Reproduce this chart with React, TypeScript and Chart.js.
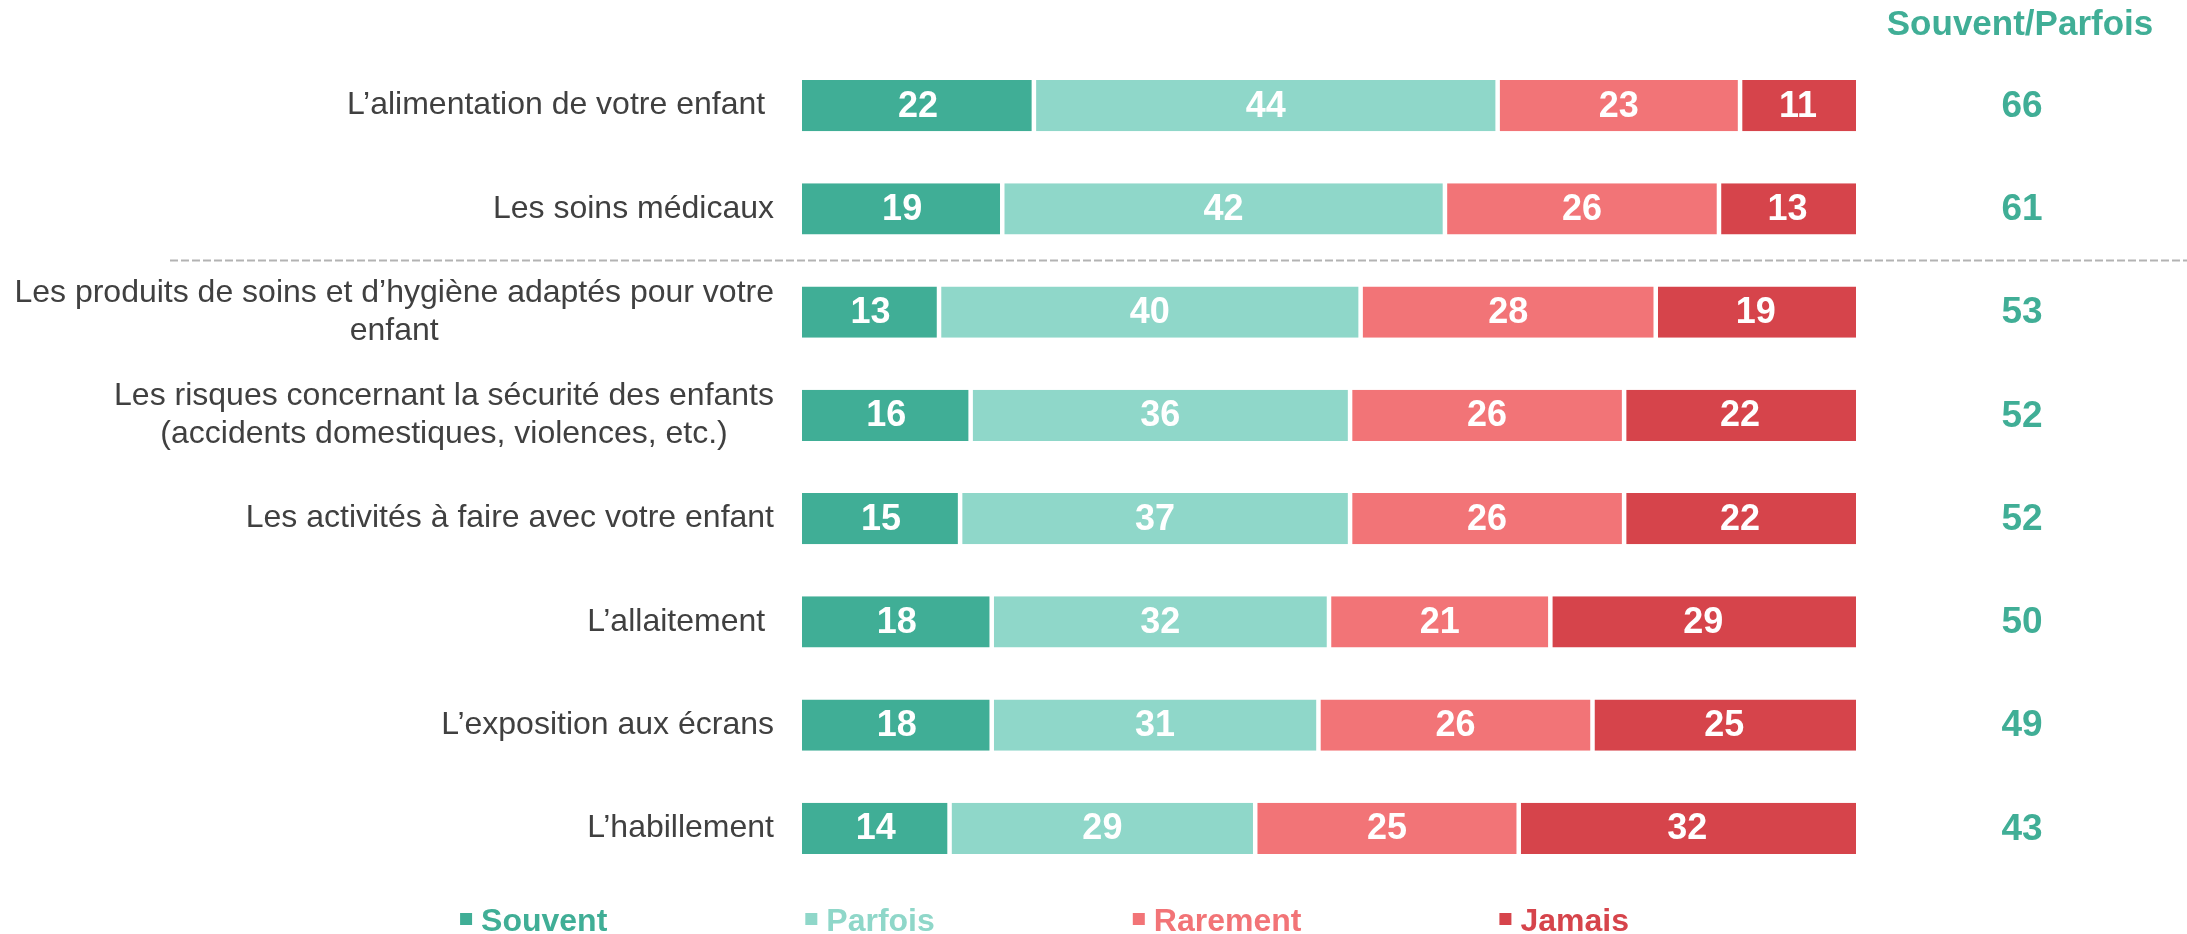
import React, { useEffect, useRef } from "react";
import { Chart, registerables } from "chart.js";

Chart.register(...registerables);

const categories: (string | string[])[] = [
  "L’alimentation de votre enfant ",
  "Les soins médicaux",
  ["Les produits de soins et d’hygiène adaptés pour votre", "enfant"],
  ["Les risques concernant la sécurité des enfants", "(accidents domestiques, violences, etc.)"],
  "Les activités à faire avec votre enfant",
  "L’allaitement ",
  "L’exposition aux écrans",
  "L’habillement",
];

const souvent = [22, 19, 13, 16, 15, 18, 18, 14];
const parfois = [44, 42, 40, 36, 37, 32, 31, 29];
const rarement = [23, 26, 28, 26, 26, 21, 26, 25];
const jamais = [11, 13, 19, 22, 22, 29, 25, 32];
const souventParfois = [66, 61, 53, 52, 52, 50, 49, 43];
const totalHeader = "Souvent/Parfois";

const seriesNames = ["Souvent", "Parfois", "Rarement", "Jamais"];
const seriesColors = ["#40AE96", "#8FD7C9", "#F27477", "#D6444B"];

const FONT = "'Liberation Sans', Arial, sans-serif";

const customPlugin = {
  id: "custom",
  beforeDatasetsDraw(chart: any) {
    const { ctx } = chart;
    const y = chart.scales.y;
    const lineY = (y.getPixelForValue(1) + y.getPixelForValue(2)) / 2;
    ctx.save();
    ctx.strokeStyle = "#B3B3B3";
    ctx.lineWidth = 2;
    ctx.setLineDash([8, 3]);
    ctx.beginPath();
    ctx.moveTo(170, lineY);
    ctx.lineTo(chart.width, lineY);
    ctx.stroke();
    ctx.restore();
  },
  afterDatasetsDraw(chart: any) {
    const { ctx, chartArea } = chart;
    const yScale = chart.scales.y;
    ctx.save();
    // value labels inside bars
    ctx.fillStyle = "#FFFFFF";
    ctx.font = `bold 36px ${FONT}`;
    ctx.textAlign = "center";
    ctx.textBaseline = "middle";
    chart.data.datasets.forEach((ds: any, di: number) => {
      const meta = chart.getDatasetMeta(di);
      meta.data.forEach((el: any, i: number) => {
        const cx = (el.x + el.base) / 2;
        ctx.fillText(String(ds.data[i]), cx, el.y + 1);
      });
    });

    // category labels
    ctx.fillStyle = "#404040";
    ctx.font = `32px ${FONT}`;
    const right = chartArea.left - 28;
    const lh = 38;
    categories.forEach((lab, i) => {
      const lines = Array.isArray(lab) ? lab : [lab];
      const cy = yScale.getPixelForValue(i);
      if (lines.length === 1) {
        ctx.textAlign = "right";
        ctx.fillText(lines[0], right, cy);
      } else {
        const maxW = Math.max(...lines.map((l) => ctx.measureText(l).width));
        const cx = right - maxW / 2;
        ctx.textAlign = "center";
        lines.forEach((l, k) => {
          ctx.fillText(l, cx, cy + (k - (lines.length - 1) / 2) * lh);
        });
      }
    });

    // right column
    const colX = chartArea.right + 166;
    ctx.fillStyle = seriesColors[0];
    ctx.font = `bold 35px ${FONT}`;
    ctx.textAlign = "center";
    ctx.fillText(totalHeader, colX - 2, 25);
    ctx.font = `bold 37px ${FONT}`;
    souventParfois.forEach((v, i) => {
      ctx.fillText(String(v), colX, yScale.getPixelForValue(i) + 1);
    });

    // legend
    ctx.font = `bold 32px ${FONT}`;
    ctx.textBaseline = "alphabetic";
    ctx.textAlign = "left";
    const box = 12;
    const gapBox = 9;
    const gapItem = 198;
    const widths = seriesNames.map((n) => box + gapBox + ctx.measureText(n).width);
    const total = widths.reduce((a, b) => a + b, 0) + gapItem * (widths.length - 1);
    let x = chart.width * 0.4776 - total / 2;
    const baseY = 931;
    seriesNames.forEach((n, i) => {
      ctx.fillStyle = seriesColors[i];
      ctx.fillRect(x, baseY - 18, box, box);
      ctx.fillText(n, x + box + gapBox, baseY);
      x += widths[i] + gapItem;
    });
    ctx.restore();
  },
};

export default function App() {
  const ref = useRef<HTMLCanvasElement>(null);
  useEffect(() => {
    document.body.style.margin = "0";
    const canvas = ref.current!;
    const seriesData = [souvent, parfois, rarement, jamais];
    const half = 2.25;
    const chart = new Chart(canvas, {
      type: "bar",
      data: {
        labels: categories.map((c) => (Array.isArray(c) ? c.join(" ") : c)),
        datasets: seriesData.map((d, i) => ({
          label: seriesNames[i],
          data: d,
          backgroundColor: seriesColors[i],
          borderColor: "#FFFFFF",
          borderSkipped: false,
          borderWidth: {
            top: 0,
            bottom: 0,
            left: i === 0 ? 0 : half,
            right: i === 3 ? 0 : half,
          },
          barPercentage: 1,
          categoryPercentage: 0.495,
        })),
      },
      options: {
        indexAxis: "y",
        responsive: false,
        animation: false,
        devicePixelRatio: 1,
        layout: { padding: { left: 0, right: 331, top: 54, bottom: 54 } },
        plugins: {
          legend: { display: false },
          tooltip: { enabled: false },
        },
        scales: {
          x: {
            stacked: true,
            min: 0,
            max: 100,
            display: false,
          },
          y: {
            stacked: true,
            grid: { display: false },
            border: { display: false },
            ticks: { display: false },
            afterFit: (scale: any) => {
              scale.width = 802;
            },
          },
        },
      } as any,
      plugins: [customPlugin],
    });
    return () => chart.destroy();
  }, []);
  return (
    <div style={{ width: 2187, height: 934 }}>
      <canvas ref={ref} width={2187} height={934} style={{ display: "block" }} />
    </div>
  );
}
